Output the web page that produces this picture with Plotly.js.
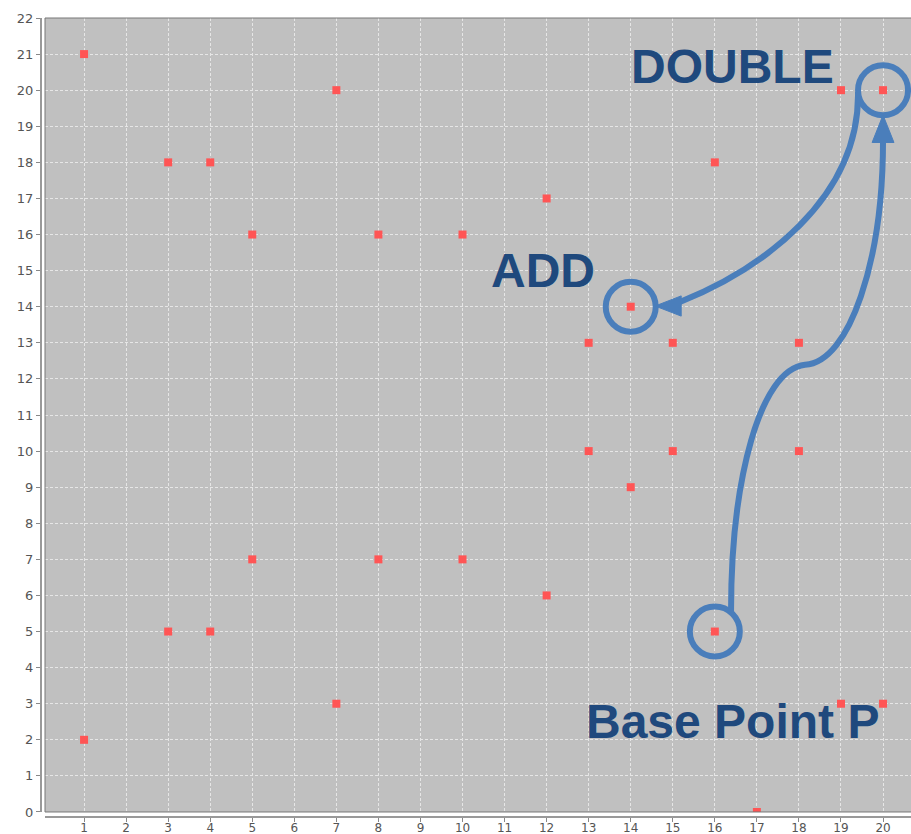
<!DOCTYPE html>
<html>
<head>
<meta charset="utf-8">
<script src="https://cdn.plot.ly/plotly-3.0.1.min.js"></script>
<style>html,body{margin:0;padding:0;background:#fff;}#chart{width:911px;height:834px;}</style>
</head>
<body>
<div id="chart"></div>
<script>
// Points of the curve
const xs = [1, 7, 19, 20, 3, 4, 16, 12, 5, 8, 10, 14, 13, 15, 18, 13, 15, 18, 14, 5, 8, 10, 12, 3, 4, 16, 7, 19, 20, 1, 17];
const ys = [21, 20, 20, 20, 18, 18, 18, 17, 16, 16, 16, 14, 13, 13, 13, 10, 10, 10, 9, 7, 7, 7, 6, 5, 5, 5, 3, 3, 3, 2, 0];
const xTicks = [1,2,3,4,5,6,7,8,9,10,11,12,13,14,15,16,17,18,19,20];
const yTicks = [0,1,2,3,4,5,6,7,8,9,10,11,12,13,14,15,16,17,18,19,20,21,22];

// Highlighted points and labels
const basePoint = [16, 5];
const addPoint = [14, 14];
const doublePoint = [20, 20];
const labelTexts = ["DOUBLE", "ADD", "Base Point P"];

const blue = '#4a7ebb';
const textBlue = '#1f497d';

function circle(p) {
  return {type:'circle', xref:'x', yref:'y', xsizemode:'pixel', ysizemode:'pixel',
    xanchor:p[0], yanchor:p[1], x0:-25, x1:25, y0:-25, y1:25,
    line:{color:blue, width:6}, fillcolor:'rgba(0,0,0,0)', layer:'above'};
}
function curve(d) {
  return {type:'path', xref:'x', yref:'y', path:d, line:{color:blue, width:6}, fillcolor:'rgba(0,0,0,0)', layer:'above'};
}
function head(d) {
  return {type:'path', xref:'x', yref:'y', path:d, line:{color:blue, width:1}, fillcolor:blue, layer:'above'};
}

const shapes = [
  circle(doublePoint), circle(addPoint), circle(basePoint),
  // base -> double
  curve('M 16.385 5.54 C 16.385 9.2 17.07 12.25 18.145 12.39 C 19.215 12.47 20.0 15.3 20.0 18.62'),
  head('M 20.0 19.31 L 19.74 18.55 L 20.26 18.55 Z'),
  // double -> add
  curve('M 19.405 19.95 C 19.45 16.96 17.07 15.02 15.17 14.13'),
  head('M 14.58 14.02 L 15.2 14.3 L 15.2 13.74 Z'),
  // plot border (top, left, bottom)
  {type:'path', xref:'paper', yref:'paper', path:'M 1.01 1 L 0.0046 1 L 0.0046 0.00627 L 1.01 0.00627',
   line:{color:'#777', width:1}, fillcolor:'rgba(0,0,0,0)', layer:'above'}
];

const annFont = {family:'Liberation Sans, Arial, sans-serif', size:48, color:textBlue, weight:'bold'};
const annotations = [
  {x:13.96, y:20.67, text:labelTexts[0], xref:'x', yref:'y', showarrow:false, xanchor:'left', yanchor:'middle', font:annFont},
  {x:10.62, y:14.99, text:labelTexts[1], xref:'x', yref:'y', showarrow:false, xanchor:'left', yanchor:'middle', font:annFont},
  {x:12.89, y:2.52, text:labelTexts[2], xref:'x', yref:'y', showarrow:false, xanchor:'left', yanchor:'middle', font:annFont}
];

const trace = {x:xs, y:ys, type:'scatter', mode:'markers',
  marker:{symbol:'square', size:8, color:'#ff5555', line:{width:0}}, cliponaxis:true, hoverinfo:'x+y'};

const tickFont = {family:'DejaVu Sans, sans-serif', size:13, color:'#555'};
const layout = {
  width:911, height:834,
  margin:{l:41, r:0, t:18, b:17, pad:0},
  paper_bgcolor:'#ffffff', plot_bgcolor:'#c0c0c0',
  showlegend:false,
  xaxis:{domain:[0.0046,1], range:[0.0713, 20.665], anchor:'free', position:0,
    tickvals:xTicks, ticktext:xTicks.map(String), ticks:'outside', ticklen:4, tickcolor:'#888',
    ticklabelstandoff:-4,
    showline:true, linecolor:'#999', linewidth:2, showgrid:true, gridcolor:'#e6e6e6', griddash:'3px,2px', gridwidth:1,
    zeroline:false, tickfont:{family:'DejaVu Sans, sans-serif', size:12, color:'#555'}},
  yaxis:{domain:[0.00627,1], range:[0,22], anchor:'free', position:0,
    tickvals:yTicks, ticktext:yTicks.map(String), ticks:'outside', ticklen:4, tickcolor:'#888',
    showline:true, linecolor:'#999', linewidth:2, showgrid:true, gridcolor:'#e6e6e6', griddash:'3px,2px', gridwidth:1,
    zeroline:false, tickfont:tickFont},
  shapes:shapes, annotations:annotations
};
Plotly.newPlot('chart', [trace], layout, {displayModeBar:false, staticPlot:true});
</script>
</body>
</html>
